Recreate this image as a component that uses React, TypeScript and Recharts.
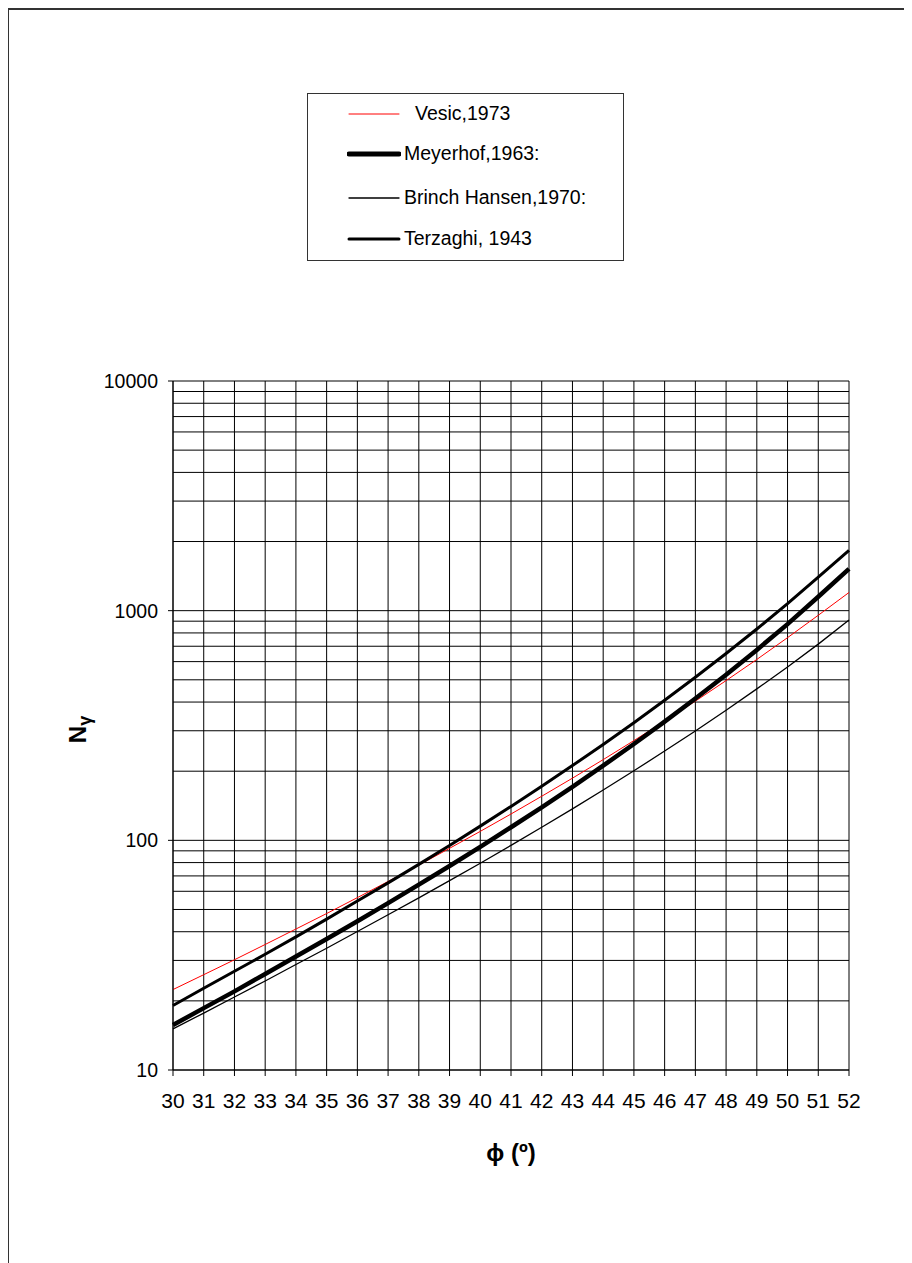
import React from 'react';
import { LineChart, Line, XAxis, YAxis, CartesianGrid, Legend, Label } from 'recharts';

// friction angle, degrees
const phi = [30, 31, 32, 33, 34, 35, 36, 37, 38, 39, 40, 41, 42, 43, 44, 45, 46, 47, 48, 49, 50, 51, 52];

// N gamma
const vesic = [22.4, 26.0, 30.2, 35.2, 41.1, 48.0, 56.3, 66.2, 78.0, 92.3, 109.4, 130.2, 155.6, 186.5, 224.6, 271.8, 330.4, 403.7, 496.0, 613.2, 762.9, 955, 1200];
const meyerhof = [15.7, 18.6, 22.0, 26.2, 31.2, 37.2, 44.4, 53.3, 64.1, 77.3, 93.7, 114.0, 139.3, 171.1, 211.4, 262.7, 328.7, 414.3, 526.4, 674.9, 873.8, 1150, 1520];
const brinchHansen = [15.1, 17.7, 20.8, 24.4, 28.8, 33.9, 40.1, 47.4, 56.2, 66.8, 79.5, 95.1, 114.0, 137.1, 165.6, 200.8, 244.7, 299.5, 368.7, 456.4, 568.6, 715, 910];
const terzaghi = [19.1, 22.7, 26.9, 31.9, 38.0, 45.4, 54.4, 65.3, 78.6, 95.0, 115.3, 140.5, 172.0, 211.6, 261.6, 325.3, 407.1, 512.8, 650.7, 832.0, 1072.8, 1400, 1830];

const yTicks = [10, 20, 30, 40, 50, 60, 70, 80, 90, 100, 200, 300, 400, 500, 600, 700, 800, 900, 1000, 2000, 3000, 4000, 5000, 6000, 7000, 8000, 9000, 10000];
const majorTicks = [10, 100, 1000, 10000];

const legendItems = [
  { name: 'Vesic,1973', color: '#ff0000', width: 1, textX: 108, y: 20 },
  { name: 'Meyerhof,1963:', color: '#000', width: 5, textX: 97, y: 60 },
  { name: 'Brinch Hansen,1970:', color: '#000', width: 1.3, textX: 97, y: 104 },
  { name: 'Terzaghi, 1943', color: '#000', width: 3, textX: 97, y: 145 },
];

const data = phi.map((p, i) => ({
  phi: p,
  vesic: vesic[i],
  meyerhof: meyerhof[i],
  brinch: brinchHansen[i],
  terzaghi: terzaghi[i],
}));

const FONT = '"Liberation Sans", Arial, sans-serif';

const YTick = (props: any) => {
  const { y, payload } = props;
  if (!majorTicks.includes(payload.value)) return null;
  return (
    <g>
      <line x1={160} x2={165} y1={y} y2={y} stroke="#000" />
      <text x={150} y={y} dy="0.36em" textAnchor="end" fontSize={19.5} fontFamily={FONT} fill="#000">
        {payload.value}
      </text>
    </g>
  );
};

const LegendBox = () => (
  <div
    style={{
      position: 'relative',
      width: 317,
      height: 168,
      border: '1px solid #333',
      boxSizing: 'border-box',
      background: '#fff',
      fontFamily: FONT,
      fontSize: 19.5,
      color: '#000',
    }}
  >
    {legendItems.map((it) => (
      <React.Fragment key={it.name}>
        <svg style={{ position: 'absolute', left: 39, top: it.y - 5 }} width={54} height={10}>
          <line x1={2} x2={52} y1={5} y2={5} stroke={it.color} strokeWidth={it.width} strokeLinecap="round" />
        </svg>
        <div style={{ position: 'absolute', left: it.textX - 1, top: it.y - 12, lineHeight: '22px', whiteSpace: 'nowrap' }}>
          {it.name}
        </div>
      </React.Fragment>
    ))}
  </div>
);

export default function App() {
  return (
    <div style={{ position: 'relative', width: 904, height: 1255 }}>
      <div
        style={{
          position: 'absolute',
          left: -1,
          top: 0,
          width: 905,
          height: 1255,
          borderTop: '2px solid #333',
          borderLeft: '2px solid #333',
          boxSizing: 'border-box',
          pointerEvents: 'none',
        }}
      />
      <LineChart
        width={904}
        height={1255}
        data={data}
        margin={{ top: 373, right: 63, left: 0, bottom: 133 }}
      >
        <CartesianGrid stroke="#000" strokeWidth={1} />
        <XAxis
          dataKey="phi"
          type="number"
          domain={[30, 52]}
          ticks={phi}
          interval={0}
          height={60}
          stroke="#000"
          tickSize={6}
          tickMargin={17}
          tick={{ fill: '#000', fontSize: 21, fontFamily: FONT }}
        >
          <Label
            value="ϕ (º)"
            position="insideBottom"
            offset={-31}
            style={{ fontSize: 24, fontWeight: 'bold', fontFamily: FONT, fill: '#000' }}
          />
        </XAxis>
        <YAxis
          scale="log"
          domain={[10, 10000]}
          ticks={yTicks}
          interval={0}
          allowDataOverflow
          width={165}
          stroke="#000"
          tickLine={false}
          tick={<YTick />}
        >
          <Label
            position="insideLeft"
            content={(props: any) => {
              const vb = props.viewBox || {};
              const cy = vb.y + vb.height / 2 + 4;
              return (
                <text
                  x={78}
                  y={cy}
                  transform={`rotate(-90 78 ${cy})`}
                  textAnchor="middle"
                  fontFamily={FONT}
                  fontWeight="bold"
                  fontSize={24}
                  fill="#000"
                >
                  N
                  <tspan fontSize={18} dy={5}>γ</tspan>
                </text>
              );
            }}
          />
        </YAxis>
        <Legend
          layout="horizontal"
          verticalAlign="middle"
          align="center"
          wrapperStyle={{ position: 'absolute', left: 299, top: 85, width: 317, height: 168 }}
          content={() => <LegendBox />}
        />
        <Line type="linear" dataKey="brinch" stroke="#000" strokeWidth={1.3} dot={false} isAnimationActive={false} />
        <Line type="linear" dataKey="vesic" stroke="#ff0000" strokeWidth={1} dot={false} isAnimationActive={false} />
        <Line type="linear" dataKey="terzaghi" stroke="#000" strokeWidth={3} dot={false} isAnimationActive={false} />
        <Line type="linear" dataKey="meyerhof" stroke="#000" strokeWidth={4.5} dot={false} isAnimationActive={false} />
      </LineChart>
    </div>
  );
}
